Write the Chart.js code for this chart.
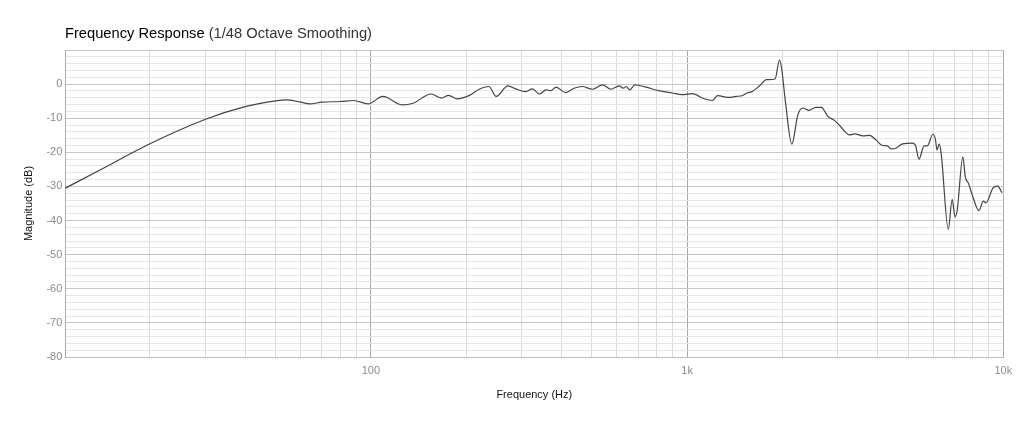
<!DOCTYPE html>
<html lang="en">
<head>
  <meta charset="UTF-8" />
  <title>Frequency Response</title>
  <script src="https://cdn.jsdelivr.net/npm/chart.js"></script>
  <style>
    body {
      margin: 0;
      background: #fff;
      font-family: 'Liberation Sans', Arial, sans-serif;
    }
    .wrap {
      position: relative;
      width: 1024px;
      height: 427px;
    }
    .title {
      position: absolute;
      left: 65px;
      top: 25px;
      font-size: 14.7px;
      color: #111;
      white-space: nowrap;
    }
    .title b {
      font-weight: 500;
      color: #000;
    }
    .title span {
      color: #333;
    }
  </style>
</head>
<body>
  <div class="wrap">
    <div class="title"><b>Frequency Response</b> <span>(1/48 Octave Smoothing)</span></div>
    <canvas id="fr" width="1024" height="427"></canvas>
  </div>

  <script>
    // frequency points (Hz) and magnitude (dB)
    const freqs = [
      10.8, 13.9, 20, 30, 40, 50, 54, 60, 64, 70, 80, 88, 98, 109, 126, 136,
      155, 167, 176, 187, 205, 220, 236, 249, 271, 287, 309, 324, 341, 358,
      371, 385, 413, 439, 466, 502, 540, 574, 610, 628, 642, 658, 684, 740,
      814, 896, 965, 1039, 1131, 1202, 1248, 1360, 1428, 1492, 1546, 1604,
      1696, 1783, 1898, 1960, 1993, 2043, 2144, 2240, 2325, 2430, 2550, 2657,
      2790, 2929, 3041, 3269, 3390, 3600, 3776, 3960, 4150, 4300, 4410, 4570,
      4800, 5150, 5280, 5410, 5620, 5750, 5990, 6100, 6170, 6270, 6360, 6700,
      6890, 7040, 7150, 7450, 7580, 7760, 8010, 8370, 8650, 8820, 9270, 9600,
      9900
    ];
    const magnitude = [
      -30.5, -25.2, -17.5, -10.3, -6.6, -4.9, -4.6, -5.3, -5.8, -5.3, -5.1, -4.8, -5.8, -3.6, -6.1, -5.6,
      -2.9, -4.1, -3.3, -4.3, -3.3, -1.5, -0.7, -3.6, -0.5, -1.4, -2.2, -1.4, -2.9, -1.7,
      -1.9, -0.9, -2.5, -1.2, -0.7, -1.5, -0.2, -1.5, -0.5, -1.2, -0.7, -1.7, -0.2, -0.9,
      -1.9, -2.6, -3.1, -2.8, -4.3, -4.8, -3.4, -3.9, -3.6, -3.4, -2.6, -2.2,
      -0.5, 1.3, 1.5, 7.1, 4.2, -4.6, -17.6, -9.0, -7.0, -7.7, -6.8, -6.8,
      -9.5, -10.7, -12.2, -14.9, -14.6, -15.2, -15.0, -16.4, -18.0, -18.1, -19.0, -18.8,
      -17.5, -17.3, -18.1, -22.0, -18.1, -18.1, -14.7, -16.2, -19.3, -17.5, -20.3, -42.6,
      -33.8, -38.9, -36.9, -21.3, -27.1, -29.1, -33.0, -37.1, -34.3, -34.8, -30.5, -29.9,
      -31.8
    ];
    const xGridTicks = [
      20, 30, 40, 50, 60, 70, 80, 90, 100,
      200, 300, 400, 500, 600, 700, 800, 900, 1000,
      2000, 3000, 4000, 5000, 6000, 7000, 8000, 9000, 10000
    ];
    const xTickLabels = { 100: '100', 1000: '1k', 10000: '10k' };

    const points = freqs.map((f, i) => ({ x: f, y: magnitude[i] }));

    new Chart(document.getElementById('fr'), {
      type: 'scatter',
      data: {
        datasets: [{
          data: points,
          showLine: true,
          borderColor: '#444',
          borderWidth: 1.2,
          pointRadius: 0,
          cubicInterpolationMode: 'monotone'
        }]
      },
      options: {
        responsive: false,
        animation: false,
        layout: { padding: { top: 50, right: 20.7, bottom: 0, left: 0 } },
        plugins: {
          legend: { display: false },
          tooltip: { enabled: false }
        },
        scales: {
          x: {
            type: 'logarithmic',
            min: 10.8,
            max: 10000,
            afterBuildTicks: (scale) => {
              scale.ticks = xGridTicks.map(v => ({ value: v }));
            },
            afterFit: (scale) => { scale.height = 70; },
            border: { display: true, color: '#bdbdbd' },
            grid: {
              color: (ctx) => xTickLabels[ctx.tick && ctx.tick.value] ? '#a9a9a9' : '#dcdcdc',
              drawTicks: false
            },
            ticks: {
              autoSkip: false,
              maxRotation: 0,
              padding: 7,
              color: '#8c8c8c',
              font: { family: 'Liberation Sans', size: 11 },
              callback: (v) => xTickLabels[v] || ''
            },
            title: {
              display: true,
              text: 'Frequency (Hz)',
              color: '#111',
              font: { family: 'Liberation Sans', size: 11 },
              padding: { top: 0, bottom: 25 }
            }
          },
          y: {
            min: -80,
            max: 10,
            afterFit: (scale) => { scale.width = 65.3; },
            border: { display: true, color: '#a9a9a9' },
            grid: {
              color: (ctx) => (ctx.tick && ctx.tick.value % 10 === 0) ? '#c6c6c6' : '#e6e6e6',
              drawTicks: false
            },
            ticks: {
              stepSize: 2,
              autoSkip: false,
              padding: 3,
              color: '#8c8c8c',
              font: { family: 'Liberation Sans', size: 11 },
              callback: (v) => (v % 10 === 0 && v <= 0) ? String(v) : ''
            },
            title: {
              display: true,
              text: 'Magnitude (dB)',
              color: '#111',
              font: { family: 'Liberation Sans', size: 11 },
              padding: { top: 22, bottom: 22 }
            }
          }
        }
      }
    });
  </script>
</body>
</html>
